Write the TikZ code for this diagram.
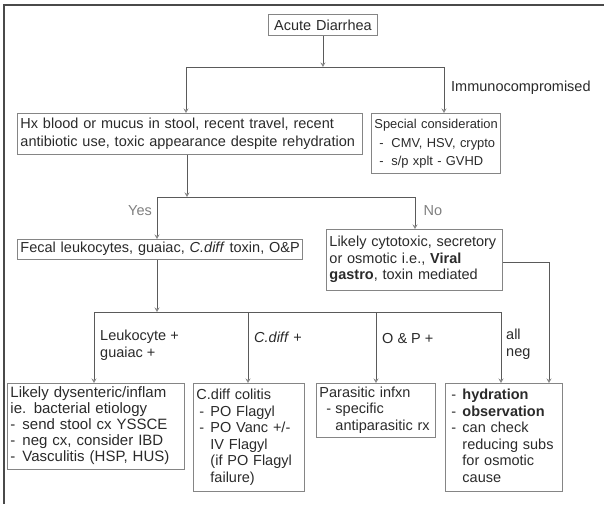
\documentclass[tikz,border=0pt]{standalone}
\usepackage{fontspec}
\setmainfont{Liberation Sans}
\usetikzlibrary{arrows.meta}
\definecolor{txtcol}{HTML}{2A2A2A}
\definecolor{boxcol}{HTML}{858585}
\definecolor{linecol}{HTML}{5A5A5A}
\definecolor{tipcol}{HTML}{8A8A8A}
\definecolor{framecol}{HTML}{4A4A4A}
\newcommand{\di}[2]{\makebox[#2][l]{\hspace*{#1}-}}
\newcommand{\tb}[1]{\begin{tabular}{@{}l@{}}#1\end{tabular}}
\begin{document}
\begin{tikzpicture}[x=1pt,y=-1pt,
  every node/.style={font=\fontsize{14.5}{16.5}\selectfont, text=txtcol},
  box/.style={draw=boxcol, line width=0.9pt, rectangle, anchor=north west,
    inner xsep=3pt, inner ysep=0pt, align=left},
  lab/.style={inner sep=0pt, align=left, anchor=west},
  ln/.style={draw=linecol, line width=0.9pt},
  arr/.style={draw=linecol, line width=0.9pt, -{Stealth[length=4.5pt,width=5pt,color=tipcol]}}
]
\useasboundingbox (0,0) rectangle (604,504);
% frame
\draw[draw=framecol, line width=1.4pt] (604,5) -- (4,5) -- (4,504);

% nodes
\node[box, minimum width=109pt, minimum height=21pt, text width=103pt, align=center] (acute) at (268,14) {Acute Diarrhea};
\node[box, minimum width=345pt, minimum height=41pt, text width=339pt, font=\fontsize{14.5}{18.5}\selectfont] (hx) at (17,113)
  {\tb{Hx blood or mucus in stool, recent travel, recent\\antibiotic use, toxic appearance despite rehydration}};
\node[box, minimum width=129pt, minimum height=60pt, text width=123pt, font=\fontsize{12.9}{18.5}\selectfont] (sp) at (371,113)
  {\tb{Special consideration\\\di{5pt}{17pt}CMV, HSV, crypto\\\di{5pt}{17pt}s/p xplt - GVHD}};
\node[box, minimum width=285pt, minimum height=20pt, text width=279pt] (fecal) at (17,239)
  {\tb{Fecal leukocytes, guaiac, \textit{C.diff} toxin, O\&P}};
\node[box, minimum width=176pt, minimum height=61pt, text width=170pt] (cyto) at (326,229)
  {\tb{Likely cytotoxic, secretory\\or osmotic i.e., \textbf{Viral}\\\textbf{gastro}, toxin mediated}};
\node[box, minimum width=177pt, minimum height=86pt, text width=171pt, font=\fontsize{15}{16}\selectfont] (b1) at (7,383)
  {\tb{Likely dysenteric/inflam\\ie. bacterial etiology\\\di{0pt}{12pt}send stool cx YSSCE\\\di{0pt}{12pt}neg cx, consider IBD\\\di{0pt}{12pt}Vasculitis (HSP, HUS)}};
\node[box, minimum width=111pt, minimum height=108pt, text width=105pt] (b2) at (193,383)
  {\tb{C.diff colitis\\\di{3pt}{14pt}PO Flagyl\\\di{3pt}{14pt}PO Vanc +/-\\\hspace*{14pt}IV Flagyl\\\hspace*{14pt}(if PO Flagyl\\\hspace*{14pt}failure)}};
\node[box, minimum width=119pt, minimum height=54pt, text width=113pt] (b3) at (316,383)
  {\tb{Parasitic infxn\\\di{7pt}{16pt}specific\\\hspace*{16pt}antiparasitic rx}};
\node[box, minimum width=117pt, minimum height=108pt, text width=111pt] (b4) at (445,383)
  {\tb{\di{3pt}{14pt}\textbf{hydration}\\\di{3pt}{14pt}\textbf{observation}\\\di{3pt}{14pt}can check\\\hspace*{14pt}reducing subs\\\hspace*{14pt}for osmotic\\\hspace*{14pt}cause}};

% labels
\node[lab] (limm) at (451,88) {Immunocompromised};
\node[lab, anchor=center, text=gray] (lyes) at (140,211) {Yes};
\node[lab, anchor=center, text=gray] (lno) at (433,211) {No};
\node[lab] (lleu) at (100,345) {Leukocyte +\\guaiac +};
\node[lab] (lcd) at (254,337) {\textit{C.diff} +};
\node[lab] (lop) at (382,338) {O \& P +};
\node[lab] (lall) at (506,344) {all\\neg};

% connectors: top
\coordinate (tL) at (186,67);
\coordinate (tR) at (444,67);
\coordinate (tM) at (acute.south |- tL);
\draw[arr] (acute) -- (tM);
\draw[ln] (tL) -- (tR);
\draw[arr] (tL) -- (tL |- hx.north);
\draw[arr] (tR) -- (tR |- sp.north);

% middle
\coordinate (mM) at (187,197);
\coordinate (mL) at (157,197);
\coordinate (mR) at (415,197);
\draw[arr] (hx.south -| mM) -- (mM);
\draw[ln] (mL) -- (mR);
\draw[arr] (mL) -- (mL |- fecal.north);
\draw[arr] (mR) -- (mR |- cyto.north);

% bottom
\coordinate (bM) at (157,312);
\coordinate (bA) at (94,312);
\coordinate (bB) at (248,312);
\coordinate (bC) at (376,312);
\coordinate (bD) at (501,312);
\draw[arr] (fecal.south -| bM) -- (bM);
\draw[ln] (bA) -- (bD);
\draw[arr] (bA) -- (bA |- b1.north);
\draw[arr] (bB) -- (bB |- b2.north);
\draw[arr] (bC) -- (bC |- b3.north);
\draw[arr] (bD) -- (bD |- b4.north);

% cytotoxic to supportive care
\coordinate (cR) at (549,262);
\draw[arr] (cyto.east |- cR) -- (cR) -- (cR |- b4.north);
\end{tikzpicture}
\end{document}
